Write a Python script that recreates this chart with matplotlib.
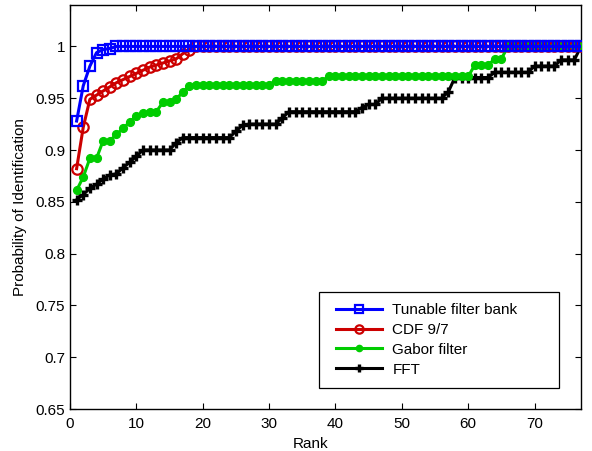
import numpy as np
import matplotlib
matplotlib.use("Agg")
import matplotlib.pyplot as plt
from matplotlib.patches import Rectangle

plt.rcParams["font.family"] = ["Liberation Sans", "DejaVu Sans"]

ranks = np.arange(1, 78)

tunable = [0.928, 0.962, 0.981, 0.994, 0.997, 0.998] + [1.0] * 71

cdf97 = [0.882, 0.922, 0.949, 0.953, 0.957, 0.961, 0.965, 0.968, 0.971, 0.974,
         0.977, 0.980, 0.982, 0.984, 0.986, 0.988, 0.993, 0.997] + [1.0] * 59

gabor = ([0.861, 0.874, 0.892, 0.892, 0.909, 0.909, 0.915, 0.921, 0.927, 0.933,
          0.936, 0.937, 0.937, 0.946, 0.946, 0.949, 0.956, 0.962]
         + [0.963] * 12 + [0.967] * 8 + [0.971] * 22
         + [0.982] * 3 + [0.988] * 2 + [1.0] * 12)

fft = ([0.852, 0.857, 0.863, 0.867, 0.872, 0.876, 0.877, 0.883, 0.888, 0.894,
        0.900, 0.900, 0.900, 0.900, 0.900, 0.907]
       + [0.912] * 8 + [0.918, 0.924] + [0.925] * 5 + [0.931]
       + [0.937] * 11 + [0.941, 0.944, 0.944] + [0.950] * 10 + [0.956]
       + [0.970] * 6 + [0.975] * 6 + [0.981] * 4 + [0.987] * 3 + [1.0])

labels = ["Tunable filter bank", "CDF 9/7", "Gabor filter", "FFT"]
xticks = [0, 10, 20, 30, 40, 50, 60, 70]
yticks = [0.65, 0.7, 0.75, 0.8, 0.85, 0.9, 0.95, 1.0]

fig = plt.figure(figsize=(5.92, 4.51), dpi=100)
ax = fig.add_axes([0.1182, 0.0931, 0.8632, 0.8958])

h_fft, = ax.plot(ranks, fft, color="black", lw=2.2, marker="+", ms=7.5, mew=2.4, zorder=2)
h_gab, = ax.plot(ranks, gabor, color="#00cc00", lw=2.2, marker="o", ms=5.6, mew=1, zorder=3)
h_cdf, = ax.plot(ranks, cdf97, color="#cc0000", lw=2.2, marker="o", ms=7.5, mew=1.6,
                 mfc="none", zorder=4)
h_tun, = ax.plot(ranks, tunable, color="#0000ff", lw=2.2, marker="s", ms=6.5, mew=1.6,
                 mfc="none", zorder=5)

ax.set_xlim(0, 77)
ax.set_ylim(0.65, 1.04)
ax.set_xticks(xticks)
ax.set_xticklabels([str(t) for t in xticks])
ax.set_yticks(yticks)
ax.set_yticklabels(["0.65", "0.7", "0.75", "0.8", "0.85", "0.9", "0.95", "1"])
ax.tick_params(direction="in", top=True, right=True, labelsize=11, length=4, width=0.8)
ax.tick_params(axis="x", pad=6)
for s in ax.spines.values():
    s.set_linewidth(1.0)

ax.set_xlabel("Rank", fontsize=11, labelpad=3)
ax.xaxis.set_label_coords(0.47, -0.07)
ax.set_ylabel("Probability of Identification", fontsize=11, labelpad=6)

# legend entries without their own frame; a plain box is drawn around them
leg = ax.legend([h_tun, h_cdf, h_gab, h_fft], labels, loc="upper left",
                bbox_to_anchor=(0.5205, 0.262), borderaxespad=0, borderpad=0,
                fontsize=11, frameon=False, handlelength=3.0, handletextpad=0.7,
                labelspacing=0.38, markerscale=0.8)
leg.set_zorder(10)
box = Rectangle((0.487, 0.052), 0.47, 0.2376, transform=ax.transAxes,
                facecolor="white", edgecolor="black", lw=0.9, zorder=9)
ax.add_patch(box)

fig.savefig("out.png", dpi=100)
